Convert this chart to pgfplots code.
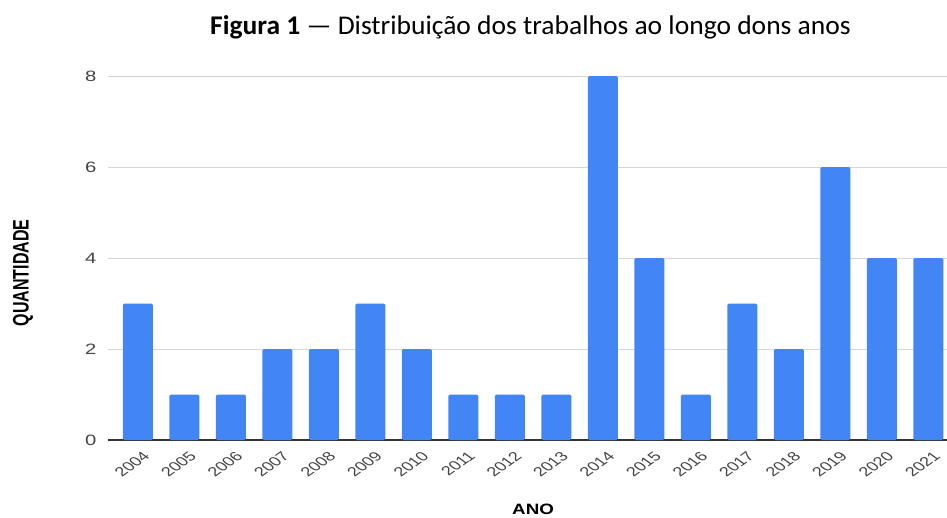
\documentclass[border=0pt]{standalone}
\usepackage{pgfplots}
\pgfplotsset{compat=1.18}
\usepackage{fontspec}
\setmainfont{Liberation Sans}
\newfontfamily\calibri{Carlito}
\definecolor{barblue}{HTML}{4285F4}
\definecolor{gridgray}{HTML}{D6D6D6}
\definecolor{axisdark}{HTML}{333333}
\definecolor{labgray}{HTML}{444444}
\begin{document}
\begin{tikzpicture}[x=1pt,y=1pt]
\useasboundingbox (0,0) rectangle (947,517);
\node[font=\calibri\fontsize{27}{30}\selectfont, xscale=1.02, anchor=base west, inner sep=0pt] at (210,482) {\textbf{Figura 1} — Distribuição dos trabalhos ao longo dons anos};
\begin{axis}[
  at={(108pt,77pt)}, anchor=south west,
  scale only axis, width=839pt, height=364pt,
  xmin=-0.645, xmax=17.4, ymin=0, ymax=8,
  ytick={0,2,4,6,8},
  xtick={0,...,17},
  xticklabels={2004,2005,2006,2007,2008,2009,2010,2011,2012,2013,2014,2015,2016,2017,2018,2019,2020,2021},
  /pgf/number format/assume math mode=true,
  ymajorgrids, grid style={gridgray, line width=1pt},
  axis x line*=bottom, axis y line*=left,
  y axis line style={draw=none},
  x axis line style={axisdark, line width=1.2pt},
  major tick length=0pt,
  tick label style={labgray},
  y tick label style={font=\fontsize{15}{15}\selectfont, xscale=1.35, anchor=east, xshift=-5pt},
  x tick label style={font=\fontsize{13}{13}\selectfont, xscale=1.4, rotate=45, anchor=east, yshift=-14pt, xshift=-2pt},
  xlabel={ANO},
  xlabel style={font=\bfseries\fontsize{15}{15}\selectfont, xscale=1.25, at={(rel axis cs:0.5066,-0.1896)}, anchor=center},
  ylabel={QUANTIDADE},
  ylabel style={font=\bfseries\fontsize{16}{16}\selectfont, rotate=-90, xscale=1.4, rotate=90, at={(rel axis cs:-0.1013,0.459)}, anchor=center},
  clip=false,
]
\addplot[ybar, bar width=30pt, fill=barblue, draw=none, rounded corners=1.5pt] coordinates {
(0,3) (1,1) (2,1) (3,2) (4,2) (5,3) (6,2) (7,1) (8,1) (9,1)
(10,8) (11,4) (12,1) (13,3) (14,2) (15,6) (16,4) (17,4)
};
\end{axis}
\end{tikzpicture}
\end{document}
